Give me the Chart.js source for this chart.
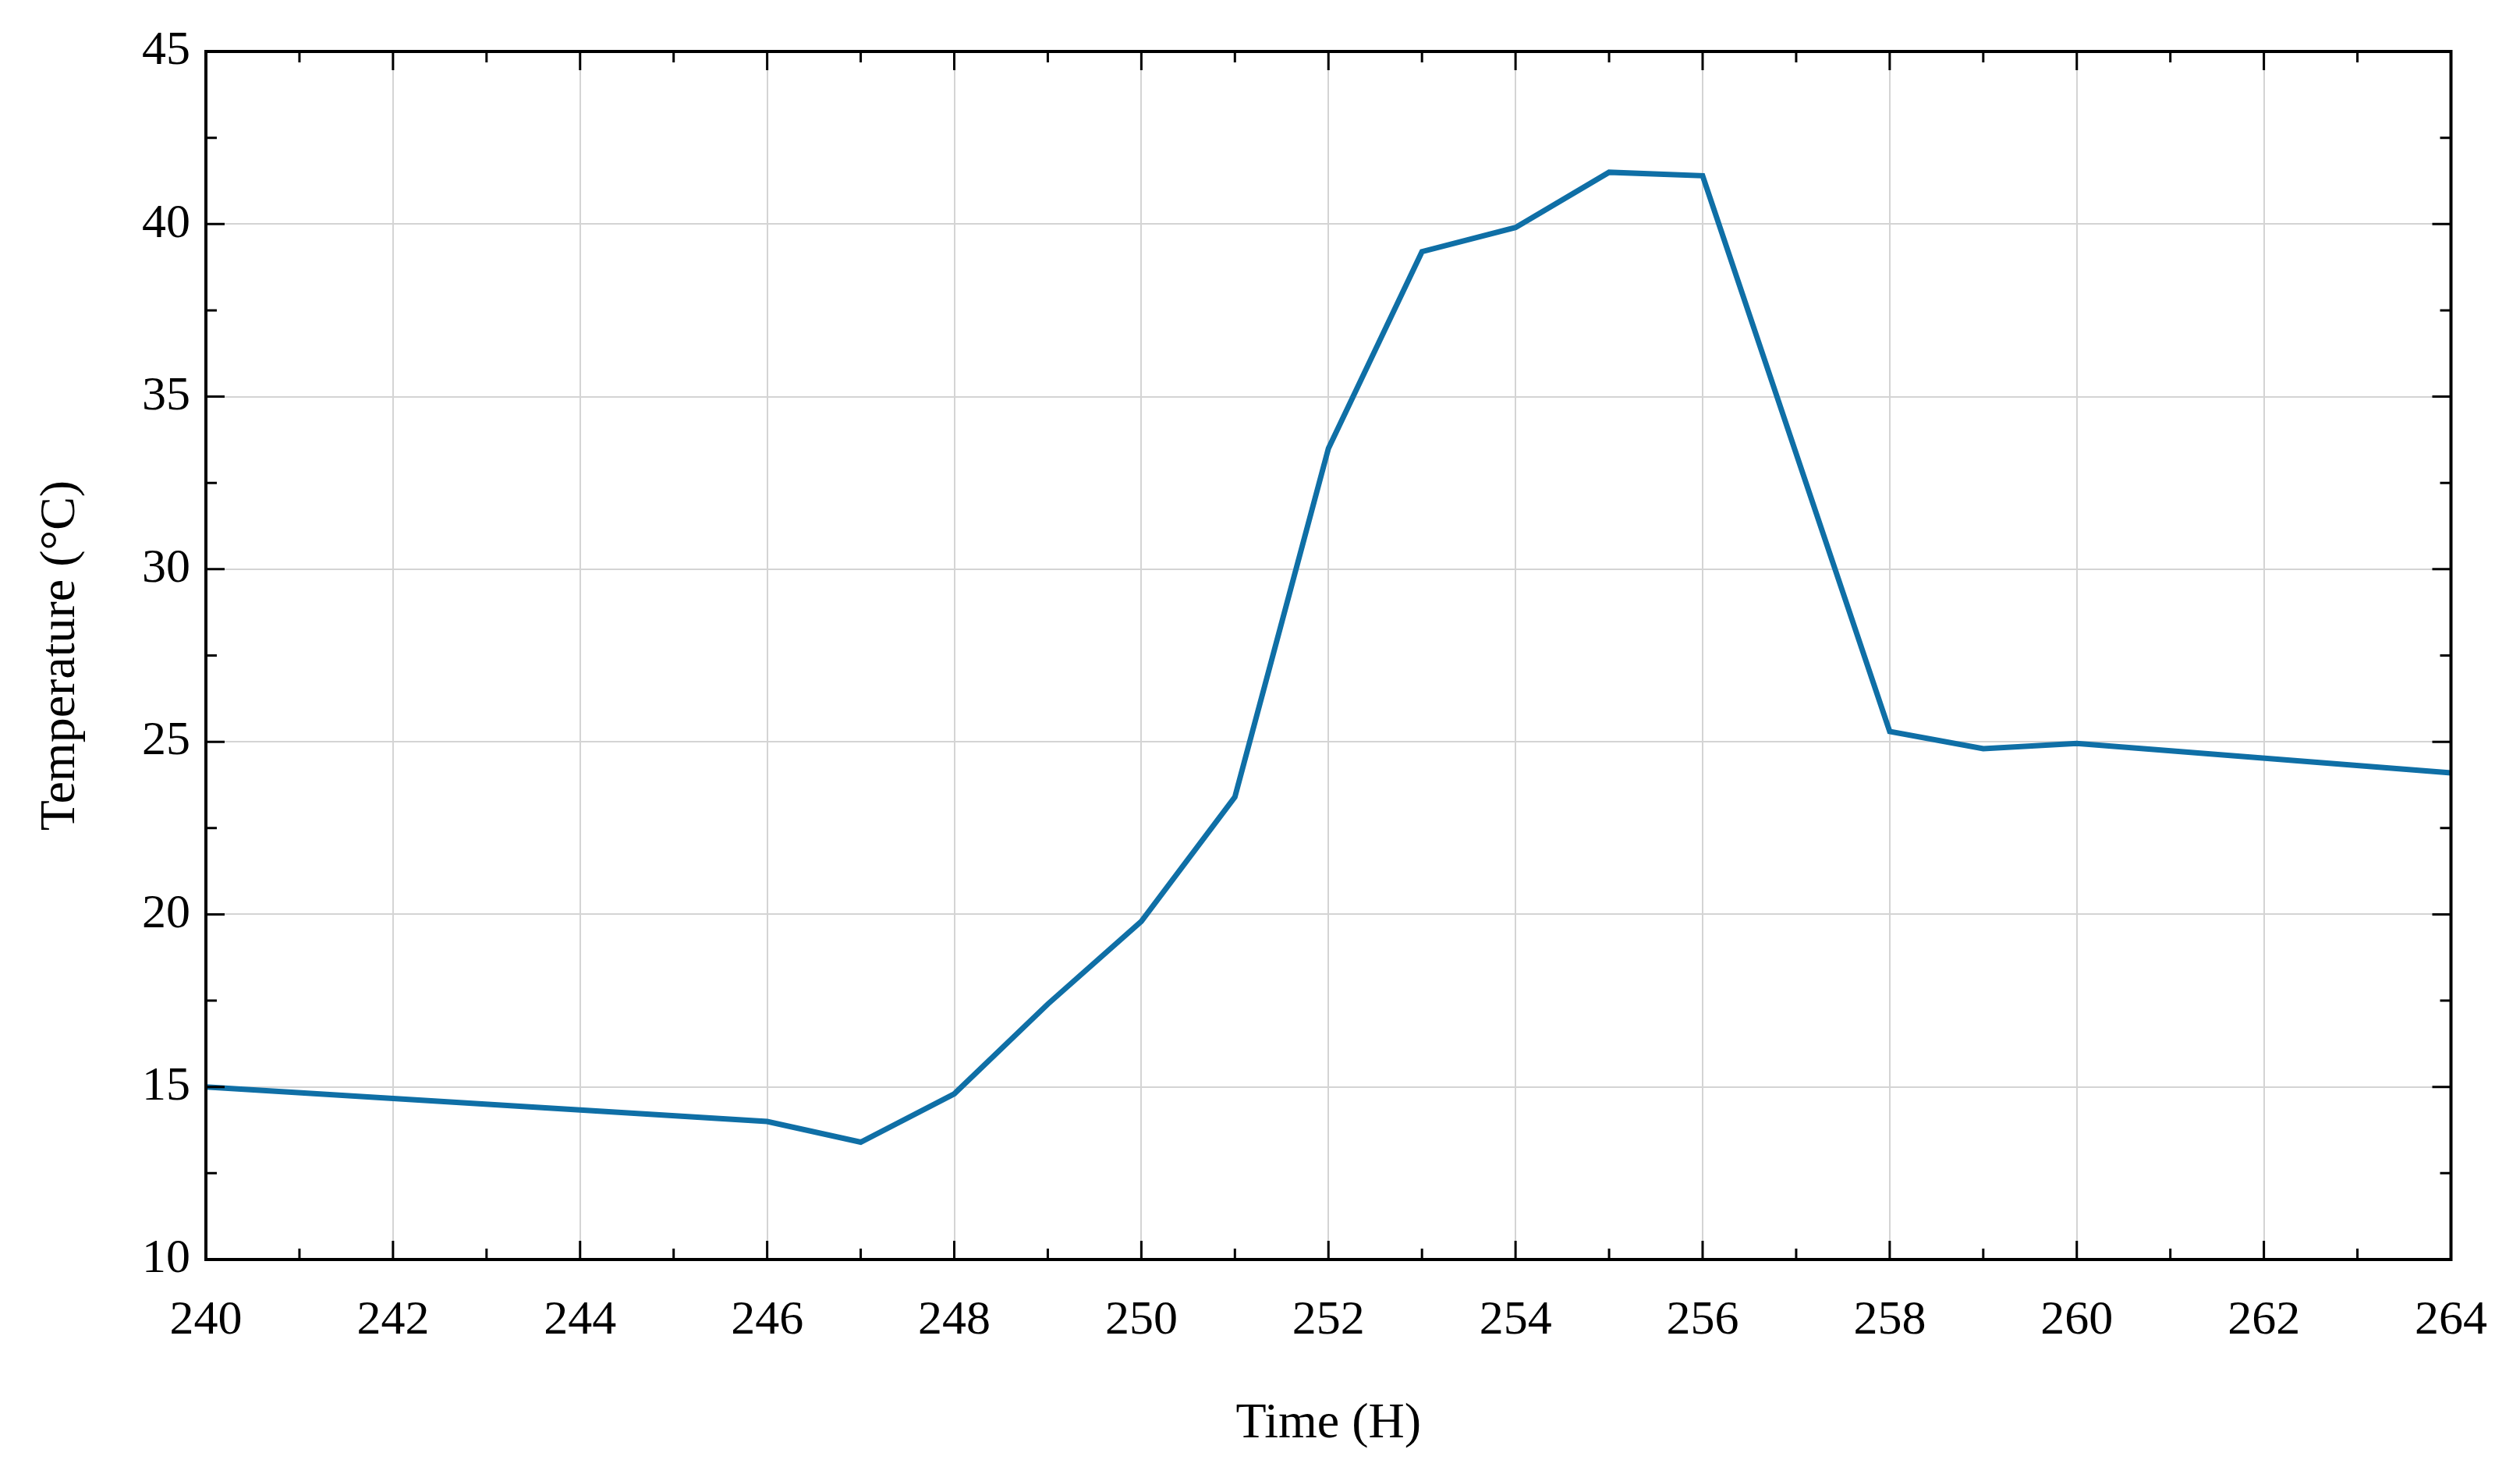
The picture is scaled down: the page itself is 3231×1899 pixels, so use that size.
<!DOCTYPE html>
<html>
<head>
<meta charset="utf-8">
<script src="https://cdn.jsdelivr.net/npm/chart.js@4"></script>
<style>
  html, body { margin: 0; padding: 0; background: #fff; }
  #wrap { width: 3231px; height: 1899px; }
</style>
</head>
<body>
<div id="wrap"><canvas id="temp-chart"></canvas></div>
<script>
// Data
const hours = [240, 246, 247, 248, 249, 250, 251, 252, 253, 254, 255, 256, 258, 259, 260, 264];
const temps = [15.0, 14.0, 13.4, 14.8, 17.4, 19.8, 23.4, 33.5, 39.2, 39.9, 41.5, 41.4, 25.3, 24.8, 24.95, 24.1];

const FONT = "'Liberation Serif', 'DejaVu Serif', serif";

// Frame with inward ticks on all four sides
const framePlugin = {
    id: 'frame',
    afterDraw(chart) {
        const { ctx, chartArea: a, scales } = chart;
        ctx.save();
        ctx.strokeStyle = '#000';
        ctx.lineWidth = 4;
        ctx.strokeRect(a.left, a.top, a.right - a.left, a.bottom - a.top);
        ctx.lineWidth = 3;
        for (let v = 240; v <= 264; v += 1) {
            const x = scales.x.getPixelForValue(v);
            const len = v % 2 === 0 ? 24 : 14;
            ctx.beginPath();
            ctx.moveTo(x, a.bottom); ctx.lineTo(x, a.bottom - len);
            ctx.moveTo(x, a.top); ctx.lineTo(x, a.top + len);
            ctx.stroke();
        }
        for (let v = 10; v <= 45; v += 2.5) {
            const y = scales.y.getPixelForValue(v);
            const len = v % 5 === 0 ? 24 : 14;
            ctx.beginPath();
            ctx.moveTo(a.left, y); ctx.lineTo(a.left + len, y);
            ctx.moveTo(a.right, y); ctx.lineTo(a.right - len, y);
            ctx.stroke();
        }
        ctx.restore();
    }
};

new Chart(document.getElementById('temp-chart').getContext('2d'), {
    type: 'line',
    data: {
        datasets: [{
            data: hours.map((h, i) => ({ x: h, y: temps[i] })),
            borderColor: '#0f6fa6',
            borderWidth: 7,
            pointRadius: 0,
            tension: 0,
            fill: false
        }]
    },
    options: {
        responsive: true,
        maintainAspectRatio: false,
        animation: false,
        layout: { padding: { top: 66, right: 74, left: 36, bottom: 30 } },
        plugins: { legend: { display: false }, tooltip: { enabled: false } },
        scales: {
            x: {
                type: 'linear',
                min: 240, max: 264,
                ticks: { stepSize: 2, color: '#000', font: { family: FONT, size: 62 }, padding: 42 },
                grid: { color: '#d4d4d4', lineWidth: 2, drawTicks: false },
                border: { display: false },
                title: { display: true, text: 'Time (H)', color: '#000', font: { family: FONT, size: 64 }, padding: { top: 50 } },
                afterFit(s) { s.height = 1899 - 1615 - 30; }
            },
            y: {
                min: 10, max: 45,
                ticks: { stepSize: 5, color: '#000', font: { family: FONT, size: 62 }, padding: 20 },
                grid: { color: '#d4d4d4', lineWidth: 2, drawTicks: false },
                border: { display: false },
                title: { display: true, text: 'Temperature (°C)', color: '#000', font: { family: FONT, size: 64 }, padding: { bottom: 0 } },
                afterFit(s) { s.width = 264 - 36; }
            }
        }
    },
    plugins: [framePlugin]
});
</script>
</body>
</html>
